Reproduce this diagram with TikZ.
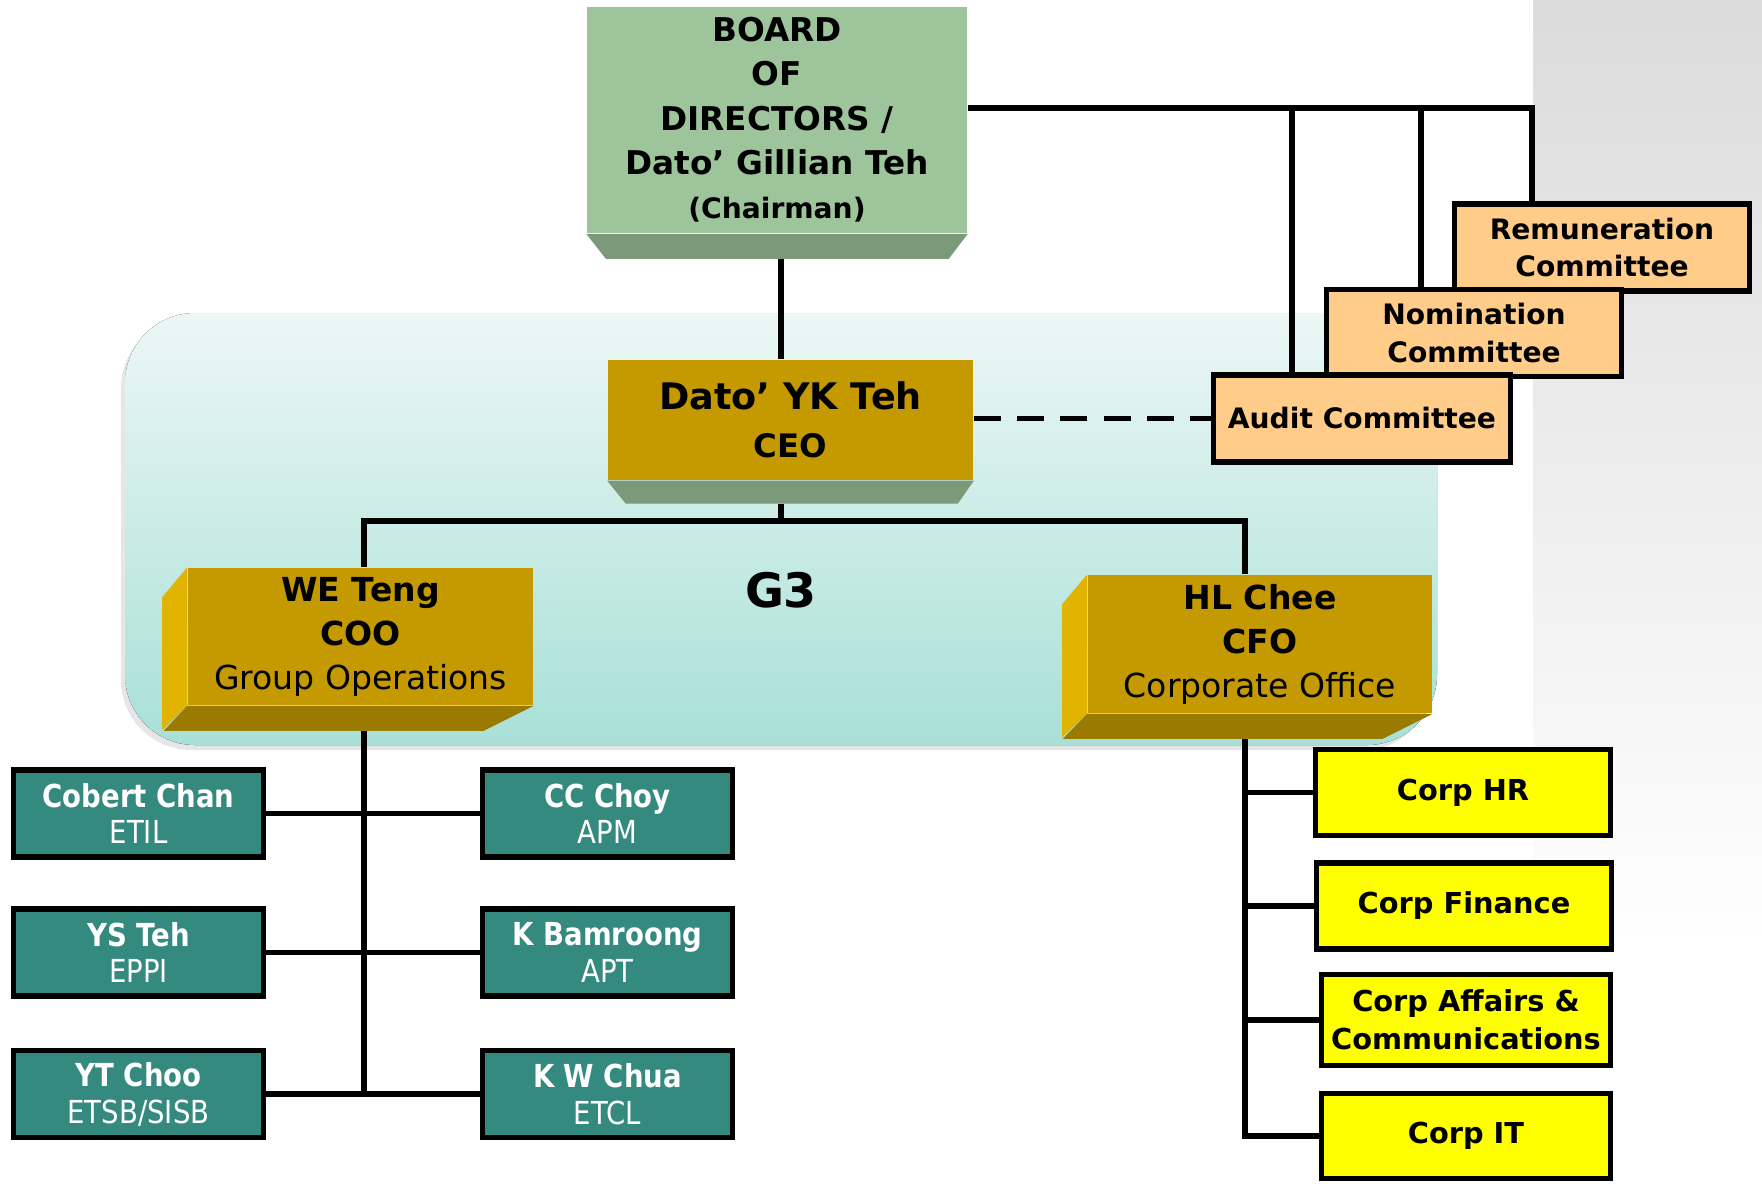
\documentclass[tikz,border=0pt]{standalone}
\usepackage{fontspec}
\setmainfont{DejaVu Sans}
\newfontfamily\condfont{DejaVu Sans}[FakeStretch=0.87]
\usetikzlibrary{shadows}

\definecolor{boardgreen}{RGB}{157,196,154}
\definecolor{bevelgreen}{RGB}{122,154,122}
\definecolor{execgold}{RGB}{196,154,0}
\definecolor{goldlight}{RGB}{224,180,0}
\definecolor{golddark}{RGB}{154,122,0}
\definecolor{committee}{RGB}{255,204,138}
\definecolor{opsteal}{RGB}{53,138,128}
\definecolor{corpyellow}{RGB}{255,255,0}
\definecolor{gthreetop}{RGB}{236,247,245}
\definecolor{gthreebottom}{RGB}{168,224,216}

\pgfdeclarelayer{bg}
\pgfdeclarelayer{lines}
\pgfsetlayers{bg,lines,main}

\begin{document}
\begin{tikzpicture}[x=0.01cm, y=-0.01cm]
   \tikzset{conn/.style = {line width = 1.7pt},
            BoardStyle/.style = {rectangle, fill = boardgreen, inner sep = 0pt, align = center,
                                 minimum width = 3.8cm, minimum height = 2.26cm,
                                 font = \fontsize{9.3}{12.6}\selectfont\bfseries},
            ExecStyle/.style = {rectangle, fill = execgold, inner sep = 0pt, align = center},
            CommStyle/.style = {rectangle, draw, line width = 1.6pt, fill = committee, inner sep = 0pt,
                                align = center, minimum width = 2.95cm, minimum height = 0.87cm,
                                font = \fontsize{8}{10.8}\selectfont\bfseries},
            SubStyle/.style = {rectangle, draw, line width = 1.6pt, fill = opsteal, text = white,
                               inner sep = 0pt, align = center, minimum width = 2.5cm, minimum height = 0.87cm,
                               font = \fontsize{9}{10.5}\selectfont\condfont},
            DeptStyle/.style = {rectangle, draw, line width = 1.6pt, fill = corpyellow, inner sep = 0pt,
                                align = center, minimum width = 2.95cm, minimum height = 0.86cm,
                                font = \fontsize{8.2}{10.9}\selectfont\bfseries}}
   \useasboundingbox (0,0) rectangle (1762,1184);

   % backgrounds
   \begin{pgfonlayer}{bg}
   \fill[top color = black!14, bottom color = white] (1533,0) rectangle (1762,950);
   \fill[top color = gthreetop, bottom color = gthreebottom, rounded corners = 0.7cm,
         drop shadow = {shadow xshift = -0.04cm, shadow yshift = -0.05cm, opacity = 0.2}]
         (125,313) rectangle (1437,745);
   \end{pgfonlayer}

   \node (G3) at (781,590) {\fontsize{13.5}{16}\selectfont\bfseries G3};

   % board and executives
   \node[BoardStyle] (Board) at (777,120) {BOARD\\OF\\DIRECTORS /\\Dato’ Gillian Teh\\{\fontsize{8}{12.6}\selectfont (Chairman)}};
   \fill[bevelgreen] (Board.south west) -- (Board.south east) -- ++(-19,25) -- ++(-343,0) -- cycle;

   \node[ExecStyle, minimum width = 3.65cm, minimum height = 1.2cm, font = \fontsize{9.2}{13.7}\selectfont\bfseries]
        (CEO) at (790.5,420) {{\fontsize{10.4}{13.7}\selectfont Dato’ YK Teh}\\CEO};
   \fill[bevelgreen] (CEO.south west) -- (CEO.south east) -- ++(-16,23) -- ++(-332,0) -- cycle;

   \node[ExecStyle, minimum width = 3.45cm, minimum height = 1.37cm, font = \fontsize{9.4}{12.5}\selectfont]
        (COO) at (360.5,636.5) {\textbf{WE Teng}\\\textbf{COO}\\Group Operations};
   \node[ExecStyle, minimum width = 3.44cm, minimum height = 1.38cm, font = \fontsize{9.4}{12.5}\selectfont]
        (CFO) at (1260,644) {\textbf{HL Chee}\\\textbf{CFO}\\Corporate Office};
   \foreach \n in {COO,CFO} {
      \fill[goldlight] (\n.north west) -- ++(-25,30) -- ++(0,133) -- (\n.south west) -- cycle;
      \fill[golddark] (\n.south west) -- (\n.south east) -- ++(-50,25) -- ++(-320,0) -- cycle;
   }

   % committees
   \node[CommStyle] (Rem) at (1602,247.5) {Remuneration\\Committee};
   \node[CommStyle] (Nom) at (1474,333) {Nomination\\Committee};
   \node[CommStyle, minimum width = 2.97cm] (Audit) at (1362,418.5) {Audit Committee};

   % group operations
   \node[SubStyle] (ETIL) at (138.5,813.5) {\textbf{Cobert Chan}\\ETIL};
   \node[SubStyle] (APM) at (607.5,813.5) {\textbf{CC Choy}\\APM};
   \node[SubStyle] (EPPI) at (138.5,952.5) {\textbf{YS Teh}\\EPPI};
   \node[SubStyle] (APT) at (607.5,952.5) {\textbf{K Bamroong}\\APT};
   \node[SubStyle] (ETSB) at (138.5,1094) {\textbf{YT Choo}\\ETSB/SISB};
   \node[SubStyle] (ETCL) at (607.5,1094) {\textbf{K W Chua}\\ETCL};

   % corporate office
   \node[DeptStyle] (HR) at (1463,792.5) {Corp HR};
   \node[DeptStyle] (Fin) at (1464,906) {Corp Finance};
   \node[DeptStyle, minimum width = 2.89cm, minimum height = 0.91cm] (Affairs) at (1466,1020) {Corp Affairs \&\\Communications};
   \node[DeptStyle, minimum width = 2.89cm, minimum height = 0.85cm] (IT) at (1466,1136) {Corp IT};

   % connectors
   \begin{pgfonlayer}{lines}
   \coordinate (Bus) at (781,521);
   \coordinate (OpsBus) at (364,521);
   \coordinate (CorpBus) at (1245,521);
   \coordinate (RemLink) at (1532,108);
   \coordinate (NomLink) at (1421,108);
   \coordinate (AuditLink) at (1292,108);

   \draw[conn] (Board.south -| Bus) ++(0,25) -- (CEO.north -| Bus);
   \draw[conn] (CEO.south -| Bus) ++(0,23) -- (Bus);
   \draw[conn] (COO.north -| OpsBus) -- (OpsBus) -- (CorpBus) -- (CFO.north -| CorpBus);
   \draw[conn] (Board.east |- RemLink) -- (RemLink) -- (RemLink |- Rem.north);
   \draw[conn] (NomLink) -- (NomLink |- Nom.north);
   \draw[conn] (AuditLink) -- (AuditLink |- Audit.north);
   \draw[conn, dash pattern = on 7.7pt off 4.6pt] (CEO.east |- Audit.west) -- (Audit.west);

   \draw[conn] (COO.south -| OpsBus) ++(0,25) -- (OpsBus |- ETSB.east);
   \draw[conn] (ETIL.east) -- (APM.west);
   \draw[conn] (EPPI.east) -- (APT.west);
   \draw[conn] (ETSB.east) -- (ETCL.west);

   \draw[conn] (CFO.south -| CorpBus) ++(0,25) -- (CorpBus |- IT.west) -- (IT.west);
   \draw[conn] (CorpBus |- HR.west) -- (HR.west);
   \draw[conn] (CorpBus |- Fin.west) -- (Fin.west);
   \draw[conn] (CorpBus |- Affairs.west) -- (Affairs.west);
   \end{pgfonlayer}
\end{tikzpicture}
\end{document}
